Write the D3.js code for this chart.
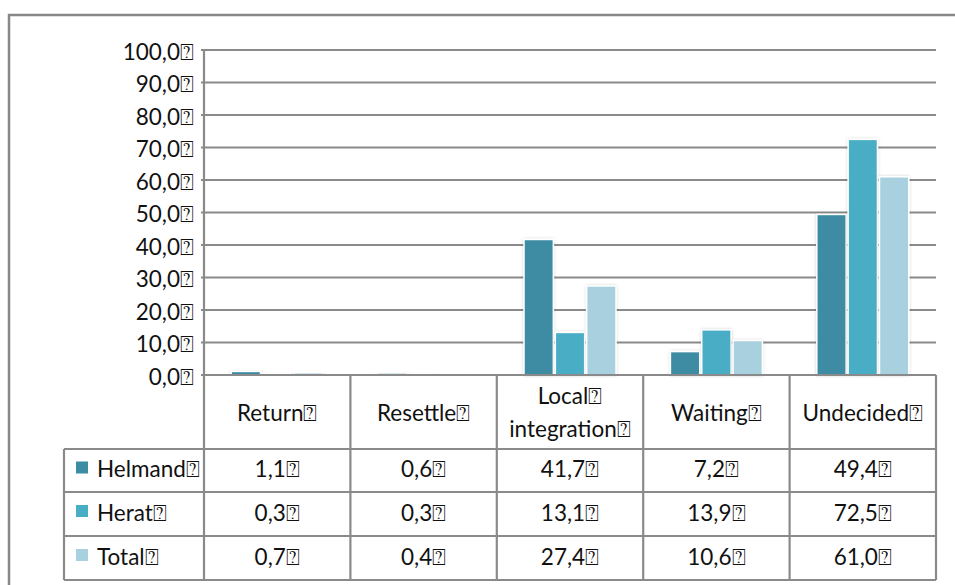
<!DOCTYPE html>
<html><head><meta charset="utf-8">
<script src="https://cdn.jsdelivr.net/npm/d3@7"></script>
<style>
html,body{margin:0;padding:0;background:#fff;}
text{font-family:Lato,"Open Sans",sans-serif;font-weight:400;fill:#111;}
</style></head>
<body><svg id="c" width="955" height="585"></svg>
<script>
const categories = ["Return","Resettle","Local integration","Waiting","Undecided"];
const series = ["Helmand","Herat","Total"];
const helmand = [1.1,0.6,41.7,7.2,49.4];
const herat = [0.3,0.3,13.1,13.9,72.5];
const total = [0.7,0.4,27.4,10.6,61.0];
const yTicks = [0,10,20,30,40,50,60,70,80,90,100];
const colors = ["#3c8ca4","#4aadc6","#a8d0de"];
const G = "\u2370";
const FS = "22.5px";

const values = [helmand, herat, total];
const fmt = v => d3.format(".1f")(v).replace(".", ",");

const svg = d3.select("#c");
const L = 204, R = 936, T = 50, B = 375;
const tableL = 64;
const rowY = [449, 492, 536, 580];

const x0 = d3.scaleBand().domain(categories).range([L, R]).paddingInner(0).paddingOuter(0);
const bw = x0.bandwidth();
const x1 = d3.scaleBand().domain(series).range([bw*0.179, bw*0.821]).padding(0);
const y = d3.scaleLinear().domain([0,100]).range([B, T]);

const defs = svg.append("defs");
const f = defs.append("filter").attr("id","sh").attr("x","-20%").attr("y","-20%").attr("width","140%").attr("height","140%");
f.append("feDropShadow").attr("dx",0).attr("dy",0).attr("stdDeviation",1.5).attr("flood-color","#000").attr("flood-opacity",0.18);

// outer frame
svg.append("path").attr("d","M9,585 V15 H955").attr("fill","none").attr("stroke","#888").attr("stroke-width",2.5);

// gridlines
svg.append("g").selectAll("line").data(yTicks).join("line")
  .attr("x1", L-3).attr("x2", R).attr("y1", d=>y(d)).attr("y2", d=>y(d))
  .attr("stroke","#8a8a8a").attr("stroke-width",2);

// y labels
svg.append("g").selectAll("text").data(yTicks).join("text")
  .attr("x", 194).attr("y", d=>y(d)+4).attr("text-anchor","end").attr("dominant-baseline","middle")
  .style("font-size",FS).text(d => fmt(d) + G);

// bars
const gBars = svg.append("g");
series.forEach((s, si) => {
  gBars.append("g").selectAll("rect").data(categories).join("rect")
    .attr("x", (c)=>x0(c)+x1(s)+1)
    .attr("width", x1.bandwidth()-2)
    .attr("y", (c,i)=>y(values[si][i]))
    .attr("height", (c,i)=>B - y(values[si][i]))
    .attr("fill", colors[si]).attr("stroke","#fff").attr("stroke-width",1.5)
    .attr("filter","url(#sh)");
});

// table lines
const tl = svg.append("g").attr("stroke","#8a8a8a").attr("stroke-width",2.2).attr("fill","none");
tl.append("line").attr("x1",L).attr("x2",L).attr("y1",T).attr("y2",rowY[3]);
categories.forEach(c => {
  tl.append("line").attr("x1",x0(c)+bw).attr("x2",x0(c)+bw).attr("y1",B).attr("y2",rowY[3]);
});
rowY.forEach(r => tl.append("line").attr("x1",tableL).attr("x2",R).attr("y1",r).attr("y2",r));
tl.append("line").attr("x1",tableL).attr("x2",tableL).attr("y1",rowY[0]).attr("y2",rowY[3]);
tl.append("line").attr("x1",L).attr("x2",R).attr("y1",B).attr("y2",B);

// category labels
const cl = svg.append("g");
categories.forEach(c => {
  const cx = x0(c) + bw/2;
  const words = c === "Local integration" ? ["Local"+G, "integration"+G] : [c+G];
  if (words.length === 1) {
    cl.append("text").attr("x",cx).attr("y",415).attr("text-anchor","middle").attr("dominant-baseline","middle").style("font-size",FS).text(words[0]);
  } else {
    cl.append("text").attr("x",cx).attr("y",398).attr("text-anchor","middle").attr("dominant-baseline","middle").style("font-size",FS).text(words[0]);
    cl.append("text").attr("x",cx).attr("y",431).attr("text-anchor","middle").attr("dominant-baseline","middle").style("font-size",FS).text(words[1]);
  }
});

// table rows
series.forEach((s, si) => {
  const cy = (rowY[si] + rowY[si+1]) / 2;
  svg.append("rect").attr("x",76).attr("y",cy-9).attr("width",12).attr("height",12).attr("fill",colors[si]);
  svg.append("text").attr("x",97).attr("y",cy+1).attr("dominant-baseline","middle").style("font-size",FS).text(s+G);
  categories.forEach((c, ci) => {
    svg.append("text").attr("x",x0(c)+bw/2).attr("y",cy+1).attr("text-anchor","middle").attr("dominant-baseline","middle")
      .style("font-size",FS).text(fmt(values[si][ci])+G);
  });
});
</script></body></html>
